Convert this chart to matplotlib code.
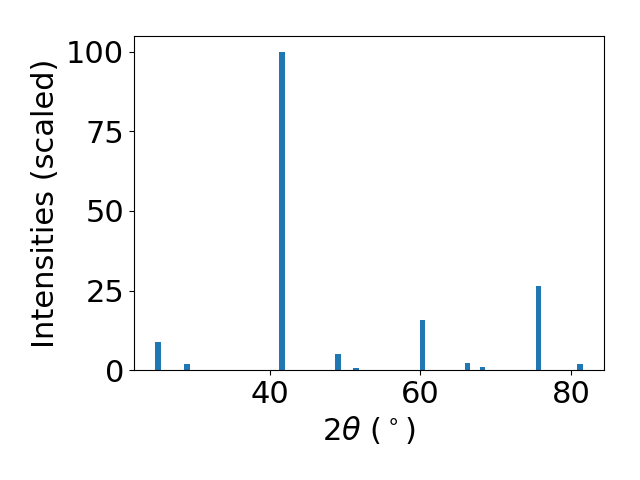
import numpy as np
import matplotlib.pyplot as plt

two_theta = [25.1, 29.0, 41.55, 49.05, 51.45, 60.25, 66.25, 68.25, 75.7, 81.2]
intensity = [8.8, 1.9, 100.0, 5.0, 0.8, 15.8, 2.2, 1.1, 26.5, 2.0]

fig, ax = plt.subplots(figsize=(6.4, 4.8), dpi=100)
ax.bar(two_theta, intensity, width=0.75, color="#1f77b4")
ax.set_xlabel(r"$2\theta$ ($^\circ$)", fontsize=22)
ax.set_ylabel("Intensities (scaled)", fontsize=22)
ax.tick_params(labelsize=22)
ax.set_yticks([0, 25, 50, 75, 100])
ax.set_xticks([40, 60, 80])
fig.subplots_adjust(left=0.209, right=0.944, top=0.925, bottom=0.229)
fig.savefig("out.png")
